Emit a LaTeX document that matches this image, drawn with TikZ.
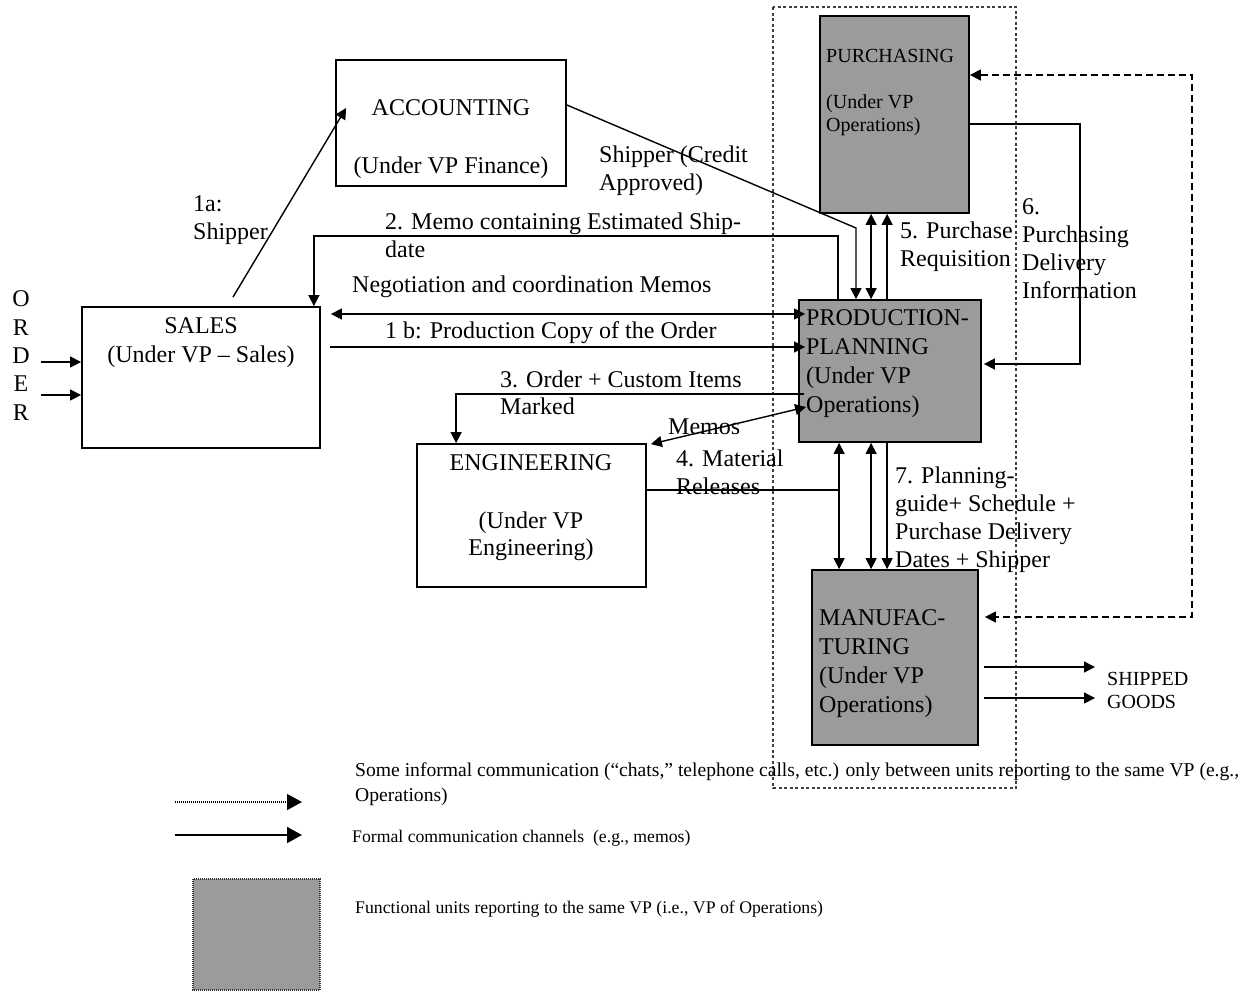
\documentclass[tikz,border=0pt]{standalone}
\usepackage{fontspec}
\setmainfont{Liberation Serif}
\usetikzlibrary{arrows.meta}
\definecolor{unitgray}{RGB}{155,155,155}
\tikzset{
  box/.style={draw, line width=1.8pt, inner sep=0pt},
  opbox/.style={box, fill=unitgray},
  txt/.style={inner sep=0pt, anchor=base west, align=left, font=\fontsize{24}{28}\selectfont},
  ctxt/.style={inner sep=0pt, anchor=base, align=center, font=\fontsize{24}{28}\selectfont},
  smalltxt/.style={inner sep=0pt, anchor=base west, align=left, font=\fontsize{20}{23}\selectfont},
  legtxt/.style={inner sep=0pt, anchor=base west, align=left},
  tip/.style={-{Triangle[length=11pt,width=11pt]}},
  conn/.style={line width=1.4pt, tip},
  conn2/.style={line width=1.4pt, {Triangle[length=11pt,width=11pt]}-{Triangle[length=11pt,width=11pt]}},
  plain/.style={line width=1.4pt},
  dconn/.style={line width=1.6pt, dash pattern=on 7pt off 4pt, {Triangle[length=11pt,width=11pt]}-{Triangle[length=11pt,width=11pt]}},
  region/.style={line width=1.1pt, black!75, dash pattern=on 3pt off 2.5pt},
  legdot/.style={line width=1.3pt, dash pattern=on 1pt off 1pt, -{Triangle[length=15pt,width=16pt]}},
  legsolid/.style={line width=1.8pt, -{Triangle[length=15pt,width=16pt]}},
  legbox/.style={fill=unitgray, draw=black!80, line width=1.2pt, dash pattern=on 1pt off 1pt},
}
\begin{document}
\begin{tikzpicture}[x=1pt,y=-1pt]
\useasboundingbox (0,0) rectangle (1257,991);

% region of VP Operations
\draw[region] (773,7) rectangle (1016,788);

% boxes
\node[box, minimum width=230pt, minimum height=126pt] (acc) at (451,123) {};
\node[box, minimum width=238pt, minimum height=141pt] (sales) at (201,377.5) {};
\node[box, minimum width=229pt, minimum height=143pt] (eng) at (531.5,515.5) {};
\node[opbox, minimum width=149pt, minimum height=197pt] (pur) at (894.5,114.5) {};
\node[opbox, minimum width=182pt, minimum height=142pt] (pp) at (890,371) {};
\node[opbox, minimum width=166pt, minimum height=175pt] (mfg) at (895,657.5) {};

% box texts (multi-line nodes are anchored at the baseline of their last line)
\node[ctxt] (accT) at (451,115) {ACCOUNTING};
\node[ctxt] (accS) at (451,173) {(Under VP Finance)};
\node[ctxt] (salesT) at (201,333) {SALES};
\node[ctxt] (salesS) at (201,362) {(Under VP – Sales)};
\node[ctxt] (engT) at (531,470) {ENGINEERING};
\node[ctxt, font=\fontsize{24}{27}\selectfont] (engS) at (531,555) {(Under VP\\Engineering)};
\node[smalltxt] (purT) at (826,62) {PURCHASING};
\node[smalltxt] (purS) at (826,131) {(Under VP\\Operations)};
\node[txt, font=\fontsize{24}{29}\selectfont] (ppT) at (806,412) {PRODUCTION-\\PLANNING\\(Under VP\\Operations)};
\node[txt, font=\fontsize{24}{29}\selectfont] (mfgT) at (819,712) {MANUFAC-\\TURING\\(Under VP\\Operations)};
\node[ctxt, font=\fontsize{24}{28.3}\selectfont] (order) at (21,420) {O\\R\\D\\E\\R};

% labels
\node[txt] (l1a) at (193,239) {1a:\\Shipper};
\node[txt, font=\fontsize{24}{28.5}\selectfont] (lship) at (599,190.5) {Shipper (Credit\\Approved)};
\node[txt] (l2) at (385,257) {2. Memo containing Estimated Ship-\\date};
\node[txt] (lneg) at (352,292) {Negotiation and coordination Memos};
\node[txt] (l1b) at (385,338) {1 b: Production Copy of the Order};
\node[txt, font=\fontsize{24}{27.5}\selectfont] (l3) at (500,414.5) {3. Order + Custom Items\\Marked};
\node[txt] (lmemo) at (668,434) {Memos};
\node[txt] (l4) at (676,494) {4. Material\\Releases};
\node[txt] (l5) at (900,266) {5. Purchase\\Requisition};
\node[txt] (l6) at (1022,298) {6.\\Purchasing\\Delivery\\Information};
\node[txt] (l7) at (895,567) {7. Planning-\\guide+ Schedule +\\Purchase Delivery\\Dates + Shipper};
\node[smalltxt] (goods) at (1107,708) {SHIPPED\\GOODS};

% legend texts
\node[legtxt, font=\fontsize{19.6}{25}\selectfont] (leg1) at (355,801) {Some informal communication (“chats,” telephone calls, etc.) only between units reporting to the same VP (e.g.,\\Operations)};
\node[legtxt, font=\fontsize{17.7}{21}\selectfont] (leg2) at (352,842) {Formal communication channels \ (e.g., memos)};
\node[legtxt, font=\fontsize{17.75}{21}\selectfont] (leg3) at (355,913) {Functional units reporting to the same VP (i.e., VP of Operations)};

% ORDER arrows
\coordinate (o1) at (41,362);
\coordinate (o2) at (41,395);
\draw[conn] (o1) -- (o1 -| sales.west);
\draw[conn] (o2) -- (o2 -| sales.west);

% 1a
\draw[conn] ([xshift=32pt,yshift=9pt]sales.north) -- ([xshift=11pt,yshift=15pt]acc.west);

% Shipper (credit approved)
\coordinate (sh) at (856,228);
\draw[conn] ([yshift=18pt]acc.east) -- (sh) -- (sh |- pp.north);

% 2 memo
\draw[conn] ([xshift=40pt]pp.north west) -- ++(0,-63) -| ([xshift=-7pt]sales.north east);

% negotiation
\draw[conn2] ([xshift=10pt,yshift=63.5pt]sales.east) -- ([xshift=7pt,yshift=57pt]pp.west);
% 1b
\draw[conn] ([xshift=9pt,yshift=30.5pt]sales.east) -- ([xshift=7pt,yshift=24pt]pp.west);
% 3
\draw[conn] ([xshift=6pt,yshift=-23pt]pp.west) -| ([xshift=40pt]eng.north west);
% memos
\draw[conn2] ([xshift=4pt,yshift=-1pt]eng.north east) -- ([xshift=8pt,yshift=-36pt]pp.west);

% PP - purchasing
\coordinate (pt1) at ([xshift=73pt]pp.north west);
\coordinate (pt2) at ([xshift=89pt]pp.north west);
\draw[conn2] (pt1) -- (pt1 |- pur.south);
\draw[conn] (pt2) -- (pt2 |- pur.south);

% PP - manufacturing
\coordinate (pb1) at ([xshift=41pt]pp.south west);
\coordinate (pb2) at ([xshift=73pt]pp.south west);
\coordinate (pb3) at ([xshift=89pt]pp.south west);
\draw[conn2] (pb1) -- (pb1 |- mfg.north);
\draw[conn2] (pb2) -- (pb2 |- mfg.north);
\draw[conn] (pb3) -- (pb3 |- mfg.north);

% 4 material releases
\coordinate (e4) at ([yshift=25.5pt]eng.east);
\draw[plain] (e4) -- (e4 -| pb1);

% 6
\draw[conn] ([yshift=-9.5pt]pur.east) -- ++(110,0) |- ([xshift=2pt,yshift=7pt]pp.east);

% dashed informal
\draw[dconn] ([yshift=39.5pt]pur.east) -- ++(222,0) |- ([xshift=6pt,yshift=40.5pt]mfg.east);

% shipped goods
\coordinate (gx) at (1095,0);
\coordinate (s1) at ([xshift=5pt,yshift=-9.5pt]mfg.east);
\coordinate (s2) at ([xshift=5pt,yshift=-40.5pt]mfg.east);
\draw[conn] (s1) -- (s1 -| gx);
\draw[conn] (s2) -- (s2 -| gx);

% legend
\coordinate (la1) at (175,802);
\coordinate (la2) at (302,802);
\coordinate (lb1) at (175,835);
\coordinate (lb2) at (302,835);
\draw[legdot] (la1) -- (la2);
\draw[legsolid] (lb1) -- (lb2);
\draw[legbox] (193,879) rectangle (320,990);
\end{tikzpicture}
\end{document}
